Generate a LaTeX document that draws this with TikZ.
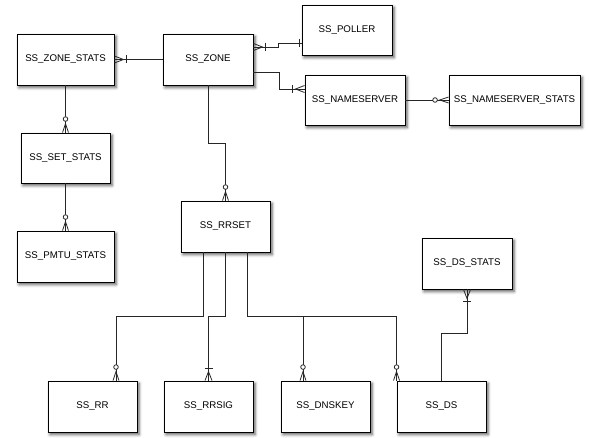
\documentclass[tikz,border=0pt]{standalone}
\usepackage{fontspec}
\setmainfont{Liberation Sans}
\usepackage{tikz}
\usetikzlibrary{shadows, shadows.blur, calc, positioning}

\begin{document}
\begin{tikzpicture}[x=1pt, y=-1pt,
  entity/.style={draw, line width=0.9pt, fill=white, minimum width=90pt, minimum height=51pt,
    inner sep=0pt, font=\fontsize{9.7}{11}\selectfont,
    blur shadow={shadow xshift=2pt, shadow yshift=-2.5pt, shadow blur radius=3pt, shadow opacity=65}},
  link/.style={line width=0.8pt, color=black!85},
  pics/manyone/.style={code={
    \draw[link] (0,-3.5) -- (9,0) -- (0,3.5);
    \draw[link] (12,-4) -- (12,4);}},
  pics/zeromany/.style={code={
    \draw[link] (0,-3) -- (9,0) -- (0,3);
    \draw[link, fill=white] (13.5,0) circle (2.3);}},
  pics/onlyone/.style={code={
    \draw[link] (2,-4) -- (2,4);}}]
\useasboundingbox (0,0) rectangle (590,438);

% entities
\node[entity, minimum width=97pt] (zonestats) at (65.5,59.5) {SS\_ZONE\_STATS};
\node[entity] (zone) at (208,59.5) {SS\_ZONE};
\node[entity, minimum height=50pt] (poller) at (347,30) {SS\_POLLER};
\node[entity, minimum width=100pt, minimum height=50pt] (nsrv) at (355,100) {SS\_NAMESERVER};
\node[entity, minimum width=131pt, minimum height=50pt] (nsstats) at (514.5,100) {SS\_NAMESERVER\_STATS};
\node[entity, minimum width=89pt, minimum height=50pt] (setstats) at (65.5,158) {SS\_SET\_STATS};
\node[entity, minimum width=97pt] (pmtu) at (65.5,256.5) {SS\_PMTU\_STATS};
\node[entity, minimum width=89pt] (rrset) at (225.5,226.5) {SS\_RRSET};
\node[entity] (dsstats) at (467,263.5) {SS\_DS\_STATS};
\foreach \n/\t/\x in {rr/SS\_RR/92.5, rrsig/SS\_RRSIG/208.5,
  dnskey/SS\_DNSKEY/325.5, ds/SS\_DS/441.5} {
\node[entity, minimum width=89pt] (\n) at (\x,406.5) {\t};
}

% relations
\draw[link] (zone.west) -- (zonestats.east);
\draw[link] ([yshift=12.5pt]zone.east) -- ++(25,0) |- ([yshift=-13pt]poller.west);
\draw[link] ([yshift=-12.5pt]zone.east) -- ++(26,0) |- ([yshift=11pt]nsrv.west);
\draw[link] (nsrv.east) -- (nsstats.west);
\draw[link] (zonestats.south) -- (setstats.north);
\draw[link] (setstats.south) -- (pmtu.north);
\draw[link] (zone.south) -- ++(0,58) -| (rrset.north);
\draw[link] ([xshift=-22pt]rrset.south) -- ++(0,64) -| ([xshift=23.5pt]rr.north);
\draw[link] (rrset.south) -- ++(0,64) -| (rrsig.north);
\draw[link] ([xshift=22pt]rrset.south) -- ++(0,64) -| ([xshift=-22.5pt]dnskey.north);
\draw[link] ([xshift=22pt]rrset.south) -- ++(0,64) -| (ds.north west);
\draw[link] (ds.north) -- ++(0,-47) -| (dsstats.south);

% ends
\pic at (zonestats.east) {manyone};
\pic at ([yshift=12.5pt]zone.east) {manyone};
\pic[rotate=180] at ([yshift=-13pt]poller.west) {onlyone};
\pic[rotate=180] at ([yshift=11pt]nsrv.west) {manyone};
\pic[rotate=180] at (nsstats.west) {zeromany};
\pic[rotate=90] at (setstats.north) {zeromany};
\pic[rotate=90] at (pmtu.north) {zeromany};
\pic[rotate=90] at (rrset.north) {zeromany};
\pic[rotate=90] at ([xshift=23.5pt]rr.north) {zeromany};
\pic[rotate=90] at (rrsig.north) {manyone};
\pic[rotate=90] at ([xshift=-22.5pt]dnskey.north) {zeromany};
\pic[rotate=90] at (ds.north west) {zeromany};
\pic[rotate=-90] at (dsstats.south) {manyone};
\end{tikzpicture}
\end{document}
